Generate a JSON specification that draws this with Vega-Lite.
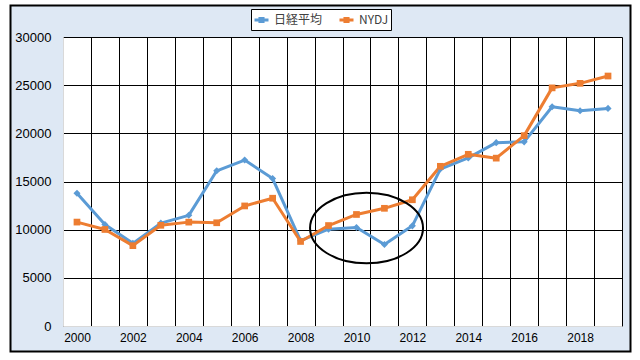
{
  "$schema": "https://vega.github.io/schema/vega-lite/v6.json",
  "width": 559,
  "height": 289,
  "autosize": {"type": "none"},
  "padding": {"left": 63, "top": 37, "right": 18, "bottom": 34},
  "background": "#DEE8F4",
  "config": {
    "view": {"fill": "white", "stroke": null},
    "font": "Liberation Sans"
  },
  "data": {
    "values": [
      {"year": 2000, "series": "日経平均", "value": 13785},
      {"year": 2001, "series": "日経平均", "value": 10542},
      {"year": 2002, "series": "日経平均", "value": 8578},
      {"year": 2003, "series": "日経平均", "value": 10676},
      {"year": 2004, "series": "日経平均", "value": 11488},
      {"year": 2005, "series": "日経平均", "value": 16111},
      {"year": 2006, "series": "日経平均", "value": 17225},
      {"year": 2007, "series": "日経平均", "value": 15307},
      {"year": 2008, "series": "日経平均", "value": 8859},
      {"year": 2009, "series": "日経平均", "value": 10050},
      {"year": 2010, "series": "日経平均", "value": 10228},
      {"year": 2011, "series": "日経平均", "value": 8455},
      {"year": 2012, "series": "日経平均", "value": 10395},
      {"year": 2013, "series": "日経平均", "value": 16291},
      {"year": 2014, "series": "日経平均", "value": 17450},
      {"year": 2015, "series": "日経平均", "value": 19033},
      {"year": 2016, "series": "日経平均", "value": 19114},
      {"year": 2017, "series": "日経平均", "value": 22764},
      {"year": 2018, "series": "日経平均", "value": 22350},
      {"year": 2019, "series": "日経平均", "value": 22590},
      {"year": 2000, "series": "NYDJ", "value": 10787},
      {"year": 2001, "series": "NYDJ", "value": 10021},
      {"year": 2002, "series": "NYDJ", "value": 8341},
      {"year": 2003, "series": "NYDJ", "value": 10453},
      {"year": 2004, "series": "NYDJ", "value": 10783},
      {"year": 2005, "series": "NYDJ", "value": 10717},
      {"year": 2006, "series": "NYDJ", "value": 12463},
      {"year": 2007, "series": "NYDJ", "value": 13264},
      {"year": 2008, "series": "NYDJ", "value": 8776},
      {"year": 2009, "series": "NYDJ", "value": 10428},
      {"year": 2010, "series": "NYDJ", "value": 11577},
      {"year": 2011, "series": "NYDJ", "value": 12217},
      {"year": 2012, "series": "NYDJ", "value": 13104},
      {"year": 2013, "series": "NYDJ", "value": 16576},
      {"year": 2014, "series": "NYDJ", "value": 17823},
      {"year": 2015, "series": "NYDJ", "value": 17425},
      {"year": 2016, "series": "NYDJ", "value": 19762},
      {"year": 2017, "series": "NYDJ", "value": 24719},
      {"year": 2018, "series": "NYDJ", "value": 25190},
      {"year": 2019, "series": "NYDJ", "value": 25950}
    ]
  },
  "layer": [
    {
      "mark": {"type": "line", "strokeWidth": 3, "strokeJoin": "round", "strokeCap": "round"},
      "encoding": {
        "x": {
          "field": "year", "type": "quantitative",
          "scale": {"domain": [1999.5, 2019.5], "nice": false, "zero": false},
          "axis": {"title": null, "values": [2000, 2000.5, 2001, 2001.5, 2002, 2002.5, 2003, 2003.5, 2004, 2004.5, 2005, 2005.5, 2006, 2006.5, 2007, 2007.5, 2008, 2008.5, 2009, 2009.5, 2010, 2010.5, 2011, 2011.5, 2012, 2012.5, 2013, 2013.5, 2014, 2014.5, 2015, 2015.5, 2016, 2016.5, 2017, 2017.5, 2018, 2018.5, 2019, 2019.5], "labelExpr": "datum.value % 2 === 0 ? '' + datum.value : ''", "labelOverlap": false, "labelFlush": false, "labelBound": false, "labelFontSize": 12, "labelColor": "#000000", "labelPadding": 6, "ticks": false, "grid": true, "gridColor": "#000000", "gridWidth": 1, "gridOpacity": {"condition": {"test": "datum.value % 1 !== 0", "value": 1}, "value": 0}, "domainColor": "#D9D9D9", "domainWidth": 1}
        },
        "y": {
          "field": "value", "type": "quantitative",
          "scale": {"domain": [0, 30000], "nice": false},
          "axis": {"title": null, "values": [0, 5000, 10000, 15000, 20000, 25000, 30000], "format": "d", "labelFontSize": 13, "labelColor": "#000000", "labelPadding": 12, "ticks": false, "grid": true, "gridColor": "#000000", "gridWidth": 1, "gridOpacity": 1, "domainColor": "#D9D9D9", "domainWidth": 1}
        },
        "stroke": {
          "field": "series",
          "type": "nominal",
          "scale": {"domain": ["日経平均", "NYDJ"], "range": ["#5B9BD5", "#ED7D31"]},
          "legend": {
            "title": null,
            "orient": "none",
            "legendX": 188,
            "legendY": -28,
            "direction": "horizontal",
            "strokeColor": "#000000",
            "fillColor": "#FFFFFF",
            "padding": 2,
            "columnPadding": 10,
            "symbolType": "M-1,0L1,0M-0.22,-0.22L0.22,-0.22L0.22,0.22L-0.22,0.22Z",
            "symbolSize": 196,
            "symbolStrokeWidth": 3,
            "labelFont": "Noto Sans CJK JP",
            "labelFontSize": 12,
            "labelColor": "#404040"
          }
        }
      }
    },
    {
      "transform": [{"filter": "datum.series === '日経平均'"}],
      "mark": {"type": "point", "filled": true, "size": 50, "opacity": 1, "shape": "diamond", "color": "#5B9BD5"},
      "encoding": {
        "x": {
          "field": "year", "type": "quantitative",
          "scale": {"domain": [1999.5, 2019.5], "nice": false, "zero": false},
          "axis": {"title": null, "values": [2000, 2000.5, 2001, 2001.5, 2002, 2002.5, 2003, 2003.5, 2004, 2004.5, 2005, 2005.5, 2006, 2006.5, 2007, 2007.5, 2008, 2008.5, 2009, 2009.5, 2010, 2010.5, 2011, 2011.5, 2012, 2012.5, 2013, 2013.5, 2014, 2014.5, 2015, 2015.5, 2016, 2016.5, 2017, 2017.5, 2018, 2018.5, 2019, 2019.5], "labelExpr": "datum.value % 2 === 0 ? '' + datum.value : ''", "labelOverlap": false, "labelFlush": false, "labelBound": false, "labelFontSize": 12, "labelColor": "#000000", "labelPadding": 6, "ticks": false, "grid": true, "gridColor": "#000000", "gridWidth": 1, "gridOpacity": {"condition": {"test": "datum.value % 1 !== 0", "value": 1}, "value": 0}, "domainColor": "#D9D9D9", "domainWidth": 1}
        },
        "y": {
          "field": "value", "type": "quantitative",
          "scale": {"domain": [0, 30000], "nice": false},
          "axis": {"title": null, "values": [0, 5000, 10000, 15000, 20000, 25000, 30000], "format": "d", "labelFontSize": 13, "labelColor": "#000000", "labelPadding": 12, "ticks": false, "grid": true, "gridColor": "#000000", "gridWidth": 1, "gridOpacity": 1, "domainColor": "#D9D9D9", "domainWidth": 1}
        }
      }
    },
    {
      "transform": [{"filter": "datum.series === 'NYDJ'"}],
      "mark": {"type": "point", "filled": true, "size": 45, "opacity": 1, "shape": "square", "color": "#ED7D31"},
      "encoding": {
        "x": {
          "field": "year", "type": "quantitative",
          "scale": {"domain": [1999.5, 2019.5], "nice": false, "zero": false},
          "axis": {"title": null, "values": [2000, 2000.5, 2001, 2001.5, 2002, 2002.5, 2003, 2003.5, 2004, 2004.5, 2005, 2005.5, 2006, 2006.5, 2007, 2007.5, 2008, 2008.5, 2009, 2009.5, 2010, 2010.5, 2011, 2011.5, 2012, 2012.5, 2013, 2013.5, 2014, 2014.5, 2015, 2015.5, 2016, 2016.5, 2017, 2017.5, 2018, 2018.5, 2019, 2019.5], "labelExpr": "datum.value % 2 === 0 ? '' + datum.value : ''", "labelOverlap": false, "labelFlush": false, "labelBound": false, "labelFontSize": 12, "labelColor": "#000000", "labelPadding": 6, "ticks": false, "grid": true, "gridColor": "#000000", "gridWidth": 1, "gridOpacity": {"condition": {"test": "datum.value % 1 !== 0", "value": 1}, "value": 0}, "domainColor": "#D9D9D9", "domainWidth": 1}
        },
        "y": {
          "field": "value", "type": "quantitative",
          "scale": {"domain": [0, 30000], "nice": false},
          "axis": {"title": null, "values": [0, 5000, 10000, 15000, 20000, 25000, 30000], "format": "d", "labelFontSize": 13, "labelColor": "#000000", "labelPadding": 12, "ticks": false, "grid": true, "gridColor": "#000000", "gridWidth": 1, "gridOpacity": 1, "domainColor": "#D9D9D9", "domainWidth": 1}
        }
      }
    },
    {
      "data": {"values": [{"k": 1}]},
      "mark": {
        "type": "point",
        "filled": false,
        "shape": "M-1,0C-1,-0.3452,-0.5523,-0.625,0,-0.625C0.5523,-0.625,1,-0.3452,1,0C1,0.3452,0.5523,0.625,0,0.625C-0.5523,0.625,-1,0.3452,-1,0Z",
        "size": 12769,
        "color": "#000000",
        "strokeWidth": 2,
        "opacity": 1
      },
      "encoding": {
        "x": {
          "datum": 2010.36, "type": "quantitative",
          "scale": {"domain": [1999.5, 2019.5], "nice": false, "zero": false},
          "axis": {"title": null, "values": [2000, 2000.5, 2001, 2001.5, 2002, 2002.5, 2003, 2003.5, 2004, 2004.5, 2005, 2005.5, 2006, 2006.5, 2007, 2007.5, 2008, 2008.5, 2009, 2009.5, 2010, 2010.5, 2011, 2011.5, 2012, 2012.5, 2013, 2013.5, 2014, 2014.5, 2015, 2015.5, 2016, 2016.5, 2017, 2017.5, 2018, 2018.5, 2019, 2019.5], "labelExpr": "datum.value % 2 === 0 ? '' + datum.value : ''", "labelOverlap": false, "labelFlush": false, "labelBound": false, "labelFontSize": 12, "labelColor": "#000000", "labelPadding": 6, "ticks": false, "grid": true, "gridColor": "#000000", "gridWidth": 1, "gridOpacity": {"condition": {"test": "datum.value % 1 !== 0", "value": 1}, "value": 0}, "domainColor": "#D9D9D9", "domainWidth": 1}
        },
        "y": {
          "datum": 10170, "type": "quantitative",
          "scale": {"domain": [0, 30000], "nice": false},
          "axis": {"title": null, "values": [0, 5000, 10000, 15000, 20000, 25000, 30000], "format": "d", "labelFontSize": 13, "labelColor": "#000000", "labelPadding": 12, "ticks": false, "grid": true, "gridColor": "#000000", "gridWidth": 1, "gridOpacity": 1, "domainColor": "#D9D9D9", "domainWidth": 1}
        }
      }
    },
    {
      "data": {"values": [{"k": 1}]},
      "mark": {"type": "rect", "fillOpacity": 0, "stroke": "#FFFFFF", "strokeWidth": 30},
      "encoding": {
        "x": {
          "datum": 1997.067, "type": "quantitative",
          "scale": {"domain": [1999.5, 2019.5], "nice": false, "zero": false},
          "axis": {"title": null, "values": [2000, 2000.5, 2001, 2001.5, 2002, 2002.5, 2003, 2003.5, 2004, 2004.5, 2005, 2005.5, 2006, 2006.5, 2007, 2007.5, 2008, 2008.5, 2009, 2009.5, 2010, 2010.5, 2011, 2011.5, 2012, 2012.5, 2013, 2013.5, 2014, 2014.5, 2015, 2015.5, 2016, 2016.5, 2017, 2017.5, 2018, 2018.5, 2019, 2019.5], "labelExpr": "datum.value % 2 === 0 ? '' + datum.value : ''", "labelOverlap": false, "labelFlush": false, "labelBound": false, "labelFontSize": 12, "labelColor": "#000000", "labelPadding": 6, "ticks": false, "grid": true, "gridColor": "#000000", "gridWidth": 1, "gridOpacity": {"condition": {"test": "datum.value % 1 !== 0", "value": 1}, "value": 0}, "domainColor": "#D9D9D9", "domainWidth": 1}
        },
        "x2": {"datum": 2020.323},
        "y": {
          "datum": 34879, "type": "quantitative",
          "scale": {"domain": [0, 30000], "nice": false},
          "axis": {"title": null, "values": [0, 5000, 10000, 15000, 20000, 25000, 30000], "format": "d", "labelFontSize": 13, "labelColor": "#000000", "labelPadding": 12, "ticks": false, "grid": true, "gridColor": "#000000", "gridWidth": 1, "gridOpacity": 1, "domainColor": "#D9D9D9", "domainWidth": 1}
        },
        "y2": {"datum": -4256}
      }
    },
    {
      "data": {"values": [{"k": 1}]},
      "mark": {"type": "rect", "fillOpacity": 0, "stroke": "#000000", "strokeWidth": 2},
      "encoding": {
        "x": {
          "datum": 1997.622, "type": "quantitative",
          "scale": {"domain": [1999.5, 2019.5], "nice": false, "zero": false},
          "axis": {"title": null, "values": [2000, 2000.5, 2001, 2001.5, 2002, 2002.5, 2003, 2003.5, 2004, 2004.5, 2005, 2005.5, 2006, 2006.5, 2007, 2007.5, 2008, 2008.5, 2009, 2009.5, 2010, 2010.5, 2011, 2011.5, 2012, 2012.5, 2013, 2013.5, 2014, 2014.5, 2015, 2015.5, 2016, 2016.5, 2017, 2017.5, 2018, 2018.5, 2019, 2019.5], "labelExpr": "datum.value % 2 === 0 ? '' + datum.value : ''", "labelOverlap": false, "labelFlush": false, "labelBound": false, "labelFontSize": 12, "labelColor": "#000000", "labelPadding": 6, "ticks": false, "grid": true, "gridColor": "#000000", "gridWidth": 1, "gridOpacity": {"condition": {"test": "datum.value % 1 !== 0", "value": 1}, "value": 0}, "domainColor": "#D9D9D9", "domainWidth": 1}
        },
        "x2": {"datum": 2019.804},
        "y": {
          "datum": 33270, "type": "quantitative",
          "scale": {"domain": [0, 30000], "nice": false},
          "axis": {"title": null, "values": [0, 5000, 10000, 15000, 20000, 25000, 30000], "format": "d", "labelFontSize": 13, "labelColor": "#000000", "labelPadding": 12, "ticks": false, "grid": true, "gridColor": "#000000", "gridWidth": 1, "gridOpacity": 1, "domainColor": "#D9D9D9", "domainWidth": 1}
        },
        "y2": {"datum": -2647}
      }
    }
  ]
}
